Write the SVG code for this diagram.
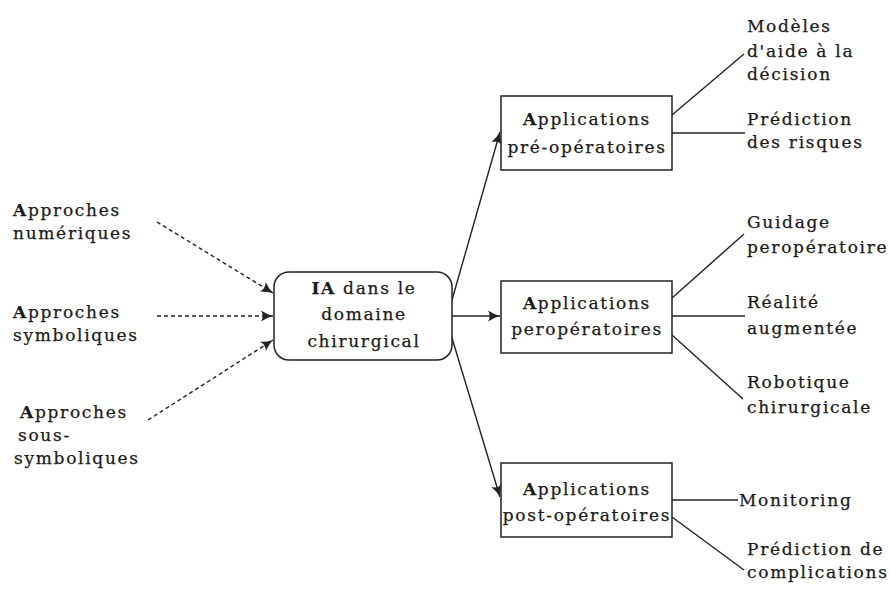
<svg xmlns="http://www.w3.org/2000/svg" width="889" height="597" viewBox="0 0 889 597">
<style>
text{font-family:"DejaVu Serif","Liberation Serif",serif;font-size:17px;fill:#1a1a1a;letter-spacing:1.7px;stroke:#1a1a1a;stroke-width:0.25}
.c{text-anchor:middle}
.b{font-weight:bold}
.box{fill:#fff;stroke:#222;stroke-width:1.5}
.ln{stroke:#222;stroke-width:1.4;fill:none}
.d{stroke:#222;stroke-width:1.4;fill:none;stroke-dasharray:4 3}
</style>
<defs>
<marker id="ah" markerUnits="userSpaceOnUse" markerWidth="13" markerHeight="12" refX="12" refY="6" orient="auto" viewBox="0 0 13 12">
<path d="M0,0.5 Q6,4.5 12,6 Q6,7.5 0,11.5 Q3.5,6 0,0.5 Z" fill="#222"/>
</marker>
</defs>
<g id="connectors">
<line class="d" x1="157" y1="222" x2="273" y2="293" marker-end="url(#ah)"/>
<line class="d" x1="157" y1="316" x2="273" y2="316" marker-end="url(#ah)"/>
<line class="d" x1="148" y1="420" x2="273" y2="340" marker-end="url(#ah)"/>
<line class="ln" x1="452" y1="300" x2="500" y2="132" marker-end="url(#ah)"/>
<line class="ln" x1="452" y1="316" x2="500" y2="316" marker-end="url(#ah)"/>
<line class="ln" x1="452" y1="338" x2="500" y2="497" marker-end="url(#ah)"/>
<line class="ln" x1="672" y1="115" x2="744" y2="54"/>
<line class="ln" x1="672" y1="133" x2="745" y2="133"/>
<line class="ln" x1="672" y1="298" x2="744" y2="234"/>
<line class="ln" x1="672" y1="316" x2="745" y2="316"/>
<line class="ln" x1="672" y1="335" x2="743" y2="399"/>
<line class="ln" x1="672" y1="500" x2="738" y2="500"/>
<line class="ln" x1="672" y1="517" x2="744" y2="570"/>
</g>
<g id="src-num">
<text x="13" y="216"><tspan class="b">A</tspan>pproches</text>
<text x="13" y="239">numériques</text>
</g>
<g id="src-sym">
<text x="13" y="318"><tspan class="b">A</tspan>pproches</text>
<text x="13" y="341">symboliques</text>
</g>
<g id="src-sous">
<text x="20" y="418"><tspan class="b">A</tspan>pproches</text>
<text x="18" y="441">sous-</text>
<text x="14" y="464">symboliques</text>
</g>
<g id="ia">
<rect class="box" x="274" y="272" width="178" height="88" rx="15"/>
<text class="c" x="364" y="294"><tspan class="b">IA</tspan> dans le</text>
<text class="c" x="364" y="320">domaine</text>
<text class="c" x="364" y="347">chirurgical</text>
</g>
<g id="pre">
<rect class="box" x="501" y="96" width="171" height="74"/>
<text class="c" x="587" y="125"><tspan class="b">A</tspan>pplications</text>
<text class="c" x="587" y="153">pré-opératoires</text>
</g>
<g id="per">
<rect class="box" x="501" y="281" width="171" height="72"/>
<text class="c" x="587" y="309"><tspan class="b">A</tspan>pplications</text>
<text class="c" x="587" y="335">peropératoires</text>
</g>
<g id="post">
<rect class="box" x="501" y="463" width="171" height="74"/>
<text class="c" x="587" y="495"><tspan class="b">A</tspan>pplications</text>
<text class="c" x="587" y="521">post-opératoires</text>
</g>
<g id="leaf-modeles">
<text x="747" y="32">Modèles</text>
<text x="747" y="57">d'aide à la</text>
<text x="747" y="80">décision</text>
</g>
<g id="leaf-risques">
<text x="747" y="125">Prédiction</text>
<text x="747" y="148">des risques</text>
</g>
<g id="leaf-guidage">
<text x="747" y="228">Guidage</text>
<text x="747" y="253">peropératoire</text>
</g>
<g id="leaf-realite">
<text x="747" y="308">Réalité</text>
<text x="747" y="334">augmentée</text>
</g>
<g id="leaf-robotique">
<text x="747" y="388">Robotique</text>
<text x="747" y="413">chirurgicale</text>
</g>
<g id="leaf-monitoring">
<text x="739" y="506">Monitoring</text>
</g>
<g id="leaf-complications">
<text x="747" y="555">Prédiction de</text>
<text x="747" y="578">complications</text>
</g>
</svg>
